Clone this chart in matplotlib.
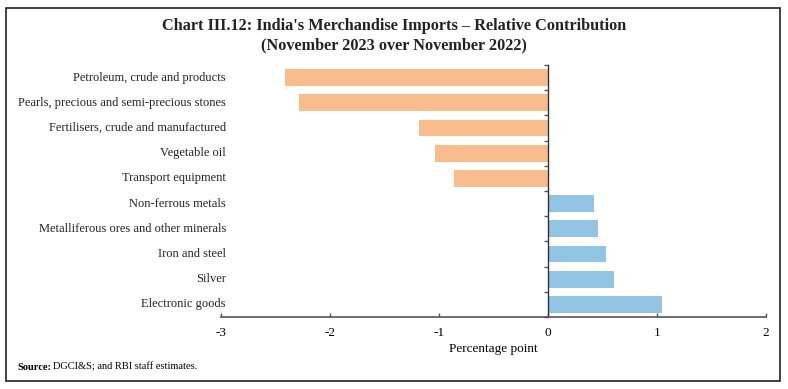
import matplotlib.pyplot as plt
from matplotlib.patches import Rectangle
import numpy as np

categories = [
    'Petroleum, crude and products',
    'Pearls, precious and semi-precious stones',
    'Fertilisers, crude and manufactured',
    'Vegetable oil',
    'Transport equipment',
    'Non-ferrous metals',
    'Metalliferous ores and other minerals',
    'Iron and steel',
    'Silver',
    'Electronic goods',
]
values = [-2.41, -2.28, -1.18, -1.04, -0.86, 0.42, 0.46, 0.53, 0.61, 1.05]
xticks = [-3, -2, -1, 0, 1, 2]

plt.rcParams['font.family'] = ['Liberation Serif', 'DejaVu Serif']

fig = plt.figure(figsize=(7.88, 3.89), dpi=100)
ax = fig.add_axes([221 / 788, 1 - 317 / 389, 545 / 788, 252 / 389])

y = np.arange(len(categories))
colors = ['#F9BD8D' if v < 0 else '#92C4E3' for v in values]
ax.barh(y, values, height=0.66, color=colors)

ax.set_xlim(-3, 2)
ax.set_ylim(len(categories) - 0.5, -0.5)
ax.set_xticks(xticks)
ax.set_xticklabels([str(t) for t in xticks], fontsize=9.5)
ax.tick_params(axis='x', direction='in', length=3, width=1, color='#555555', pad=7)
ax.set_xlabel('Percentage point', fontsize=9.5, labelpad=3)

for s in ['top', 'right']:
    ax.spines[s].set_visible(False)
ax.spines['bottom'].set_color('#555555')
ax.spines['bottom'].set_linewidth(1.2)
ax.spines['left'].set_position(('data', 0))
ax.spines['left'].set_color('#333333')
ax.spines['left'].set_linewidth(1)
ax.set_yticks(np.arange(len(categories) + 1) - 0.5)
ax.set_yticklabels([])
ax.tick_params(axis='y', direction='out', length=3, width=1, color='#555555')

for i, c in enumerate(categories):
    ax.text(0.009, i, c, transform=ax.get_yaxis_transform(), ha='right',
            va='center', fontsize=9.0, color='#222222')

fig.text(0.5, 1 - 26 / 389, "Chart III.12: India's Merchandise Imports \u2013 Relative Contribution",
         ha='center', va='center', fontsize=11.7, fontweight='bold', color='#222222')
fig.text(0.5, 1 - 45 / 389, '(November 2023 over November 2022)',
         ha='center', va='center', fontsize=11.7, fontweight='bold', color='#222222')
fig.text(17 / 788, 1 - 367 / 389, 'Source:', ha='left', va='center',
         fontsize=7.5, fontweight='bold')
fig.text(53 / 788, 1 - 367 / 389, 'DGCI&S; and RBI staff estimates.', ha='left',
         va='center', fontsize=7.5)

fig.patches.append(Rectangle((6 / 788, 1 - 381 / 389), 774 / 788, 373 / 389,
                             transform=fig.transFigure, fill=False,
                             edgecolor='#222222', linewidth=1.2))

fig.savefig('out.png', dpi=100)
